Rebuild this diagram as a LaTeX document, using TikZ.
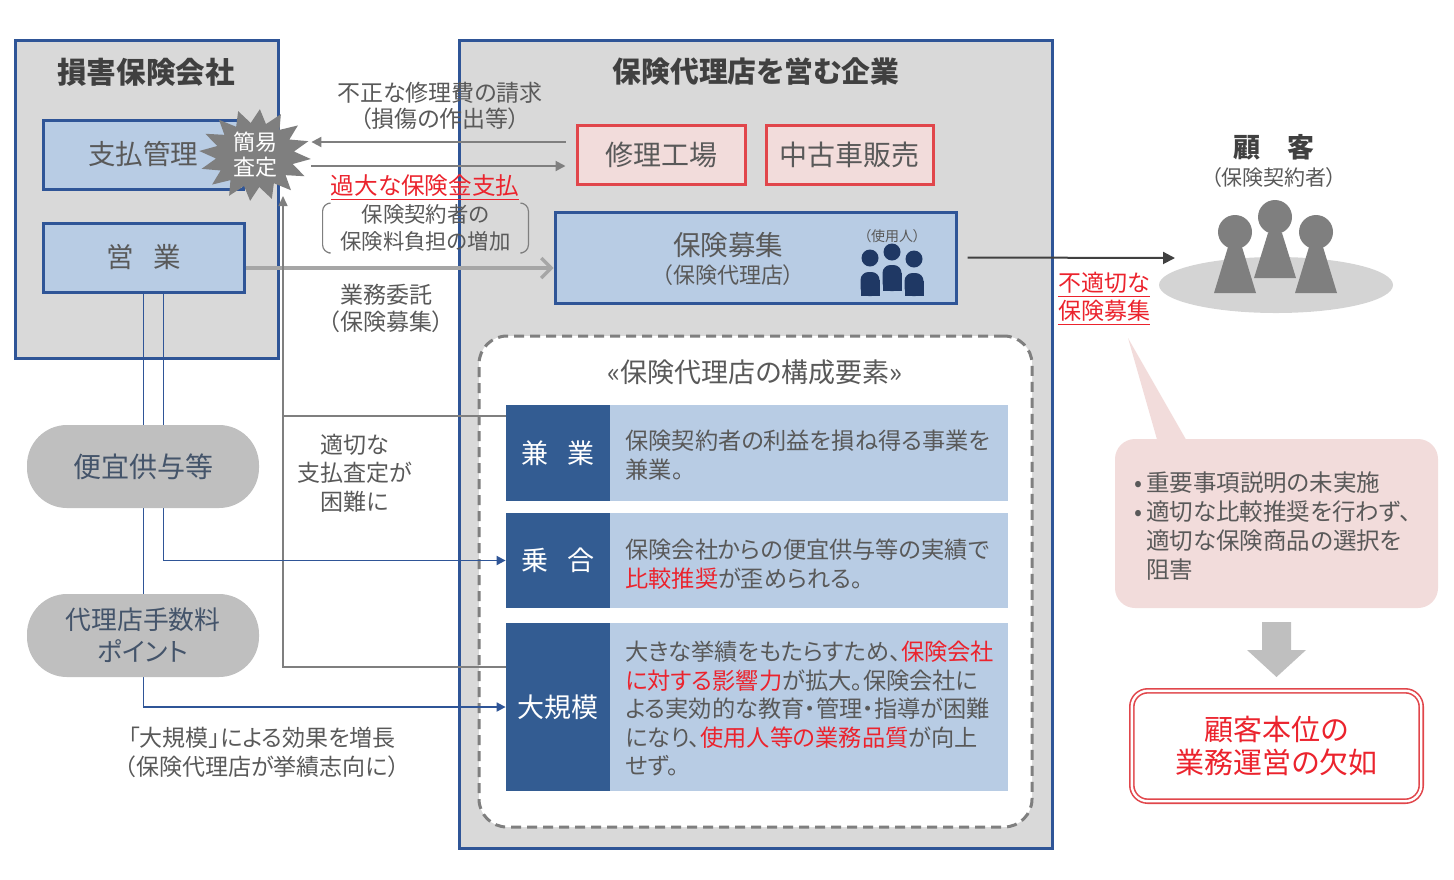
\documentclass[tikz,border=0pt]{standalone}
\usepackage{fontspec}
\setmainfont{Noto Sans CJK JP}[RawFeature=+palt]
\usetikzlibrary{arrows.meta,shapes.geometric,positioning}

\definecolor{kgray}{RGB}{217,217,217}
\definecolor{kblue}{RGB}{47,85,151}
\definecolor{klblue}{RGB}{184,204,228}
\definecolor{kdblue}{RGB}{51,92,146}
\definecolor{kred}{RGB}{235,35,45}
\definecolor{kredl}{RGB}{225,70,75}
\definecolor{kpink}{RGB}{242,220,219}
\definecolor{ktext}{RGB}{89,89,89}
\definecolor{ktitle}{RGB}{64,64,64}
\definecolor{kstar}{RGB}{127,127,127}
\definecolor{kpill}{RGB}{191,191,191}
\definecolor{kbarb}{RGB}{166,166,166}
\definecolor{kslate}{RGB}{68,84,106}
\definecolor{knavy}{RGB}{31,56,100}
\definecolor{kell}{RGB}{212,212,212}

\newcommand\fsz[2]{\fontsize{#1}{#2}\selectfont}

\begin{document}
\begin{tikzpicture}[x=0.5pt,y=-0.5pt,
  blbox/.style={draw=kblue,line width=1.5pt,fill=klblue,inner sep=0pt,text=ktext},
  rdbox/.style={draw=kredl,line width=1.5pt,fill=kpink,inner sep=0pt,text=ktext,font=\fsz{14}{16},minimum height=29.5pt},
  lbl/.style={text=ktext,align=center,inner sep=0pt},
  pill/.style={fill=kpill,rounded corners=20pt,minimum width=116pt,minimum height=41.5pt,text=kslate,align=center,inner sep=0pt},
  rowhead/.style={fill=kdblue,text=white,minimum width=52pt,inner sep=0pt,font=\fsz{13.5}{16}},
  rowbody/.style={fill=klblue,minimum width=199pt,inner sep=0pt},
  rowtext/.style={text=ktext,align=left,anchor=west,inner sep=0pt,font=\fsz{11.6}{14.25}},
  garrow/.style={draw=kstar,line width=1pt,-{Triangle[length=5pt,width=5pt]}},
  sline/.style={draw=kstar,line width=0.75pt},
  bline/.style={draw=kblue,line width=0.9pt,-{Triangle[length=4.5pt,width=4.5pt]}}]

\useasboundingbox (0,0) rectangle (1454,879);

% 損害保険会社
\node[draw=kblue,line width=1.5pt,fill=kgray,minimum width=131.5pt,minimum height=159pt] (sonpo) at (146.5,199) {};
\node[lbl,text=ktitle,font=\fsz{14.8}{17}\bfseries] (sonpo-t) at (146,72) {損害保険会社};
\node[blbox,minimum width=100pt,minimum height=34.5pt,font=\fsz{13.75}{16}] (shiharai) at (143,154.5) {支払管理};
\node[blbox,minimum width=100.5pt,minimum height=34.5pt,font=\fsz{13.75}{16}] (eigyo) at (143.5,257.5) {営\hspace{0.7em}業};

% 保険代理店を営む企業
\node[draw=kblue,line width=1.5pt,fill=kgray,minimum width=296.5pt,minimum height=404pt] (dairi) at (755.5,444) {};
\node[lbl,text=ktitle,font=\fsz{14.4}{17}\bfseries] (dairi-t) at (756,72) {保険代理店を営む企業};
\node[rdbox,minimum width=84pt] (shuri) at (661,154.5) {修理工場};
\node[rdbox,minimum width=83.5pt] (chuko) at (849.5,154.5) {中古車販売};
\node[blbox,minimum width=200.5pt,minimum height=45.5pt] (boshu) at (755.5,257.5) {};
\node[lbl,font=\fsz{13.75}{16}] (boshu-a) at (728,245) {保険募集};
\node[lbl,font=\fsz{11}{13}] (boshu-b) at (728,275) {（保険代理店）};
\node[lbl,font=\fsz{7}{8}] (shiyo) at (892,236) {（使用人）};
\foreach \cx/\hy/\by/\bb in {870/258/272/296, 892/252/265/291, 914/259/273/296}
{
\fill[knavy,rounded corners=4pt] (\cx-9.5,\by) rectangle (\cx+9.5,\bb);
\fill[knavy] (\cx-9.5,\by+8) rectangle (\cx+9.5,\bb);
\fill[knavy] (\cx,\hy) circle [radius=4.25pt];
}

% 構成要素
\node[draw=kstar,dash pattern=on 5pt off 3pt,line width=1.5pt,fill=white,rounded corners=14pt,minimum width=276.5pt,minimum height=245.5pt] (yoso) at (755.5,581.5) {};
\node[lbl,font=\fsz{13.5}{16}] (yoso-t) at (755,372) {«保険代理店の構成要素»};
\node[rowbody,minimum height=48pt] (kengyo-b) at (809,453) {};
\node[rowhead,minimum height=48pt] (kengyo) at (558,453) {兼\hspace{0.7em}業};
\node[rowtext] (kengyo-x) at (625,455) {保険契約者の利益を損ね得る事業を\\兼業。};
\node[rowbody,minimum height=47.5pt] (noriai-b) at (809,560.5) {};
\node[rowhead,minimum height=47.5pt] (noriai) at (558,560.5) {乗\hspace{0.7em}合};
\node[rowtext] (noriai-x) at (625,564) {保険会社からの便宜供与等の実績で\\{\color{kred}比較推奨}が歪められる。};
\node[rowbody,minimum height=84pt] (daikibo-b) at (809,707) {};
\node[rowhead,minimum height=84pt] (daikibo) at (558,707) {大規模};
\node[rowtext] (daikibo-x) at (625,708.5) {大きな挙績をもたらすため、{\color{kred}保険会社}\\{\color{kred}に対する影響力}が拡大。保険会社に\\よる実効的な教育・管理・指導が困難\\になり、{\color{kred}使用人等の業務品質}が向上\\せず。};

% 簡易査定
\fill[kstar] plot [domain=0:31, samples=32, variable=\k] ({255+(1-0.3*mod(\k,2))*56*cos(\k*11.25+5)}, {155+(1-0.3*mod(\k,2))*46*sin(\k*11.25+5)}) -- cycle;
\node[ellipse,minimum width=56pt,minimum height=46pt,inner sep=0pt,text=white,align=center,font=\fsz{11}{12.5}] (kani) at (255,155) {簡易\\査定};

% 顧客
\node[lbl,text=ktitle,font=\fsz{13.5}{16}\bfseries] (kokyaku) at (1274,147) {顧　客};
\node[lbl,font=\fsz{10.5}{12}] (kokyaku-s) at (1274,178) {（保険契約者）};
\node[ellipse,fill=kell,minimum width=117pt,minimum height=28pt] (kyaku) at (1276,285) {};
\foreach \px/\hy/\ny/\by in {1235/232/247/293, 1275/217/233/278, 1316/232/247/293}
{
\fill[kstar] (\px-7,\ny) -- (\px+7,\ny) -- (\px+21,\by) -- (\px-21,\by) -- cycle;
\fill[kstar] (\px,\hy) circle [radius=8.5pt];
}
\node[lbl,text=kred,font=\fsz{11.5}{14}] (futeki) at (1104,299) {\underline{不適切な}\\\underline{保険募集}};

% 問題点
\coordinate (ptip) at (1128,338);
\fill[kpink] (ptip) -- (1160,450) -- (1192,450) -- cycle;
\node[fill=kpink,rounded corners=10pt,minimum width=161.5pt,minimum height=84.5pt] (mondai) at (1276.5,523.5) {};
\node[rowtext,font=\fsz{11.75}{14.5}] (mondai-x) at (1134,526) {•\,重要事項説明の未実施\\•\,適切な比較推奨を行わず、\\\hphantom{•\,}適切な保険商品の選択を\\\hphantom{•\,}阻害};
\coordinate (yaji) at (1276.5,622);
\fill[kpill] (yaji) ++(-14.5,0) -- ++(29,0) -- ++(0,28) -- ++(15,0) -- ++(-29.5,27) -- ++(-29.5,-27) -- ++(15,0) -- cycle;
\node[draw=kredl,double=white,double distance=1.2pt,line width=0.8pt,rounded corners=8pt,minimum width=144.7pt,minimum height=55.2pt,text=kred,align=center,font=\fsz{14.5}{16.5}] (ketsujo) at (1276.5,746) {顧客本位の\\業務運営の欠如};

% 矢印
\coordinate (shuri-l) at ([xshift=-5pt]shuri.west);
\draw[garrow] (shuri-l |- 0,142) -- (kani.east |- 0,142);
\draw[garrow] (kani.east |- 0,166) -- (shuri-l |- 0,166);
\draw[draw=kbarb,line width=1.6pt,-{Straight Barb[length=5pt,width=10pt]}] (eigyo.east |- 0,268) -- (boshu.west |- 0,268);
\coordinate (kyaku-in) at (1175,258);
\draw[draw=ktitle,line width=1pt,-{Triangle[length=6pt,width=6pt]}] ([xshift=5pt]boshu.east) -- (kyaku-in);
\coordinate (jct) at (283,416);
\coordinate (kani-b) at (283,196);
\draw[sline,-{Triangle[length=5pt,width=4.5pt]}] (daikibo.west |- 0,667) -| (kani-b);
\draw[sline] (kengyo.west |- jct) -- (jct);
\draw[bline] ([xshift=10pt]eigyo.south) |- (noriai.west);
\draw[bline] (eigyo.south) |- (daikibo.west);

% 左の楕円
\node[pill,font=\fsz{14}{16}] (bengi) at (143,466.5) {便宜供与等};
\node[pill,font=\fsz{12.9}{16}] (tesuryo) at (143,635.5) {代理店手数料\\ポイント};

% ラベル
\node[lbl,font=\fsz{11.5}{14.5}] (zocho) at (262,752) {「大規模」による効果を増長\\（保険代理店が挙績志向に）};
\node[lbl,font=\fsz{11.5}{14.25}] (konnan) at (355,473) {適切な\\支払査定が\\困難に};
\node[lbl,font=\fsz{11.5}{13.5}] (itaku) at (386,308) {業務委託\\（保険募集）};
\node[lbl,font=\fsz{11.5}{13.3}] (fusei) at (440,106) {不正な修理費の請求\\（損傷の作出等）};
\node[lbl,text=kred,font=\fsz{11.8}{14}] (kadai) at (425,188) {\underline{過大な保険金支払}};
\node[lbl,font=\fsz{10.7}{13.5},minimum width=102.5pt,minimum height=24.5pt] (futan) at (425.5,228) {保険契約者の\\保険料負担の増加};
\draw[kstar,line width=0.6pt,rounded corners=4pt] ([xshift=3pt]futan.north west) -- (futan.north west) -- (futan.south west) -- ([xshift=3pt]futan.south west);
\draw[kstar,line width=0.6pt,rounded corners=4pt] ([xshift=-3pt]futan.north east) -- (futan.north east) -- (futan.south east) -- ([xshift=-3pt]futan.south east);
\end{tikzpicture}
\end{document}
